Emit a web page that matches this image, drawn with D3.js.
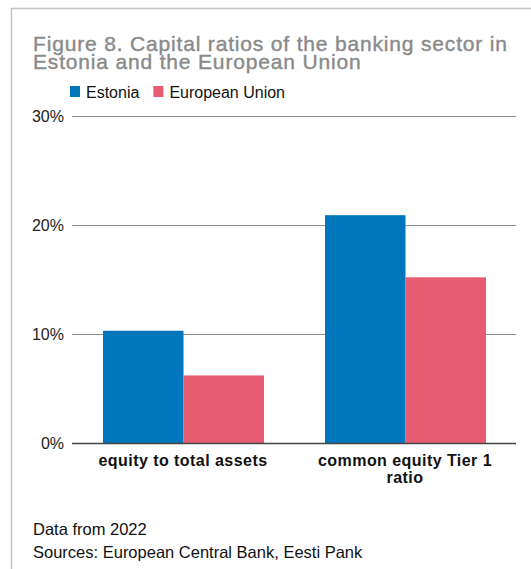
<!DOCTYPE html>
<html>
<head>
<meta charset="utf-8">
<script src="https://cdn.jsdelivr.net/npm/d3@7"></script>
<style>
  html, body { margin: 0; padding: 0; background: #fff; }
  svg { display: block; font-family: "Liberation Sans", Arial, Helvetica, sans-serif; }
</style>
</head>
<body>
<svg id="chart" width="531" height="569"></svg>
<script>
// Chart data
const categories = ["equity to total assets", "common equity Tier 1 ratio"];
const categoryLines = [["equity to total assets"], ["common equity Tier 1", "ratio"]];
const seriesNames = ["Estonia", "European Union"];
const estonia = [10.3, 20.9];
const europeanUnion = [6.2, 15.2];
const yTicks = [0, 10, 20, 30];
const colors = ["#0077bc", "#e75c71"];

const svg = d3.select("#chart");
const W = 531, H = 569;

// Frame on the top and left edges
svg.append("path")
  .attr("d", `M11.5,${H} V8.5 H${W}`)
  .attr("fill", "none").attr("stroke", "#c4c4c4").attr("stroke-width", 1.5);

// Title (medium weight, lines set tight)
const title = svg.append("text")
  .attr("fill", "#8a8a8a").attr("stroke", "#8a8a8a").attr("stroke-width", 0.4)
  .attr("font-size", 21);
title.append("tspan").attr("x", 33).attr("y", 51).text("Figure 8. Capital ratios of the banking sector in");
title.append("tspan").attr("x", 33).attr("y", 69).text("Estonia and the European Union");
// widen the tracking so the first line spans the header width
const firstTitle = title.select("tspan");
const firstLen = firstTitle.node().getComputedTextLength();
const nChars = firstTitle.text().length;
title.attr("letter-spacing", (474 - firstLen) / (nChars - 1));

// Legend
const legend = svg.append("g");
let lx = 70;
seriesNames.forEach((name, i) => {
  legend.append("rect").attr("x", lx).attr("y", 86).attr("width", 10).attr("height", 11).attr("fill", colors[i]);
  const t = legend.append("text").attr("x", lx + 16).attr("y", 97.5)
    .attr("font-size", 16).attr("fill", "#111").text(name);
  lx += 16 + t.node().getComputedTextLength() + 14;
});

// Scales
const x0 = d3.scaleBand().domain(categories).range([72, 516]).paddingInner(0).paddingOuter(0);
const x1 = d3.scaleBand().domain(seriesNames).range([31, x0.bandwidth() - 30]);
const y = d3.scaleLinear().domain([0, 30]).range([443, 116]);

// Gridlines
svg.append("g").selectAll("line").data(yTicks.filter(d => d > 0)).join("line")
  .attr("x1", 72).attr("x2", 516)
  .attr("y1", d => Math.round(y(d)) + 0.5).attr("y2", d => Math.round(y(d)) + 0.5)
  .attr("stroke", "#8a9090").attr("stroke-width", 1);

// Y tick labels
svg.append("g").selectAll("text").data(yTicks).join("text")
  .attr("x", 64).attr("y", d => y(d) + 6)
  .attr("text-anchor", "end").attr("font-size", 16).attr("fill", "#222")
  .text(d => d + "%");

// Bars
const rows = categories.map((c, i) => ({ cat: c, vals: [estonia[i], europeanUnion[i]] }));
const groups = svg.append("g").selectAll("g").data(rows).join("g")
  .attr("transform", d => `translate(${x0(d.cat)},0)`);
groups.selectAll("rect").data(d => d.vals.map((v, i) => ({ name: seriesNames[i], v, i }))).join("rect")
  .attr("x", d => x1(d.name))
  .attr("width", x1.bandwidth())
  .attr("y", d => y(d.v))
  .attr("height", d => y(0) - y(d.v))
  .attr("fill", d => colors[d.i]);

// Baseline
svg.append("line").attr("x1", 72).attr("x2", 516)
  .attr("y1", y(0) + 0.5).attr("y2", y(0) + 0.5)
  .attr("stroke", "#444").attr("stroke-width", 1.5);

// Category labels
svg.append("g").selectAll("text").data(categories).join("text")
  .attr("text-anchor", "middle").attr("font-size", 16).attr("font-weight", "bold")
  .attr("letter-spacing", 0.45).attr("fill", "#111")
  .each(function (d, i) {
    const cx = x0(d) + x0.bandwidth() / 2;
    categoryLines[i].forEach((line, j) => {
      d3.select(this).append("tspan").attr("x", cx).attr("y", 466 + j * 16.5).text(line);
    });
  });

// Notes
svg.append("text").attr("x", 33).attr("y", 535).attr("font-size", 16.5).attr("fill", "#111").text("Data from 2022");
svg.append("text").attr("x", 33).attr("y", 558).attr("font-size", 16.5).attr("fill", "#111").text("Sources: European Central Bank, Eesti Pank");
</script>
</body>
</html>
